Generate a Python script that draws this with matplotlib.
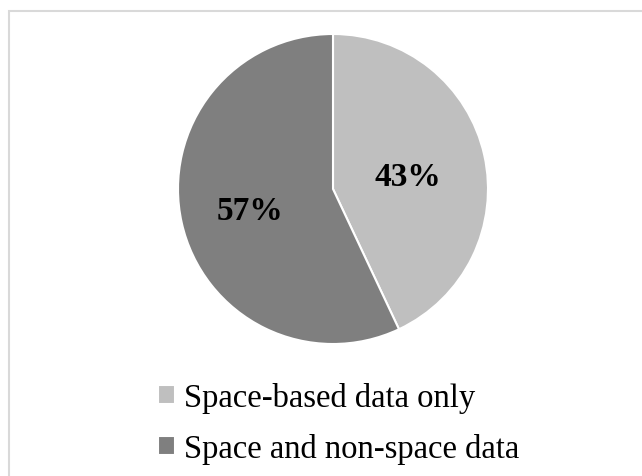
"""
Pie chart: share of studies using space-based data only vs. space and non-space data.
"""
import matplotlib.pyplot as plt
from matplotlib.patches import Rectangle

labels = ["Space-based data only", "Space and non-space data"]
shares = [43, 57]
colors = ["#BFBFBF", "#7F7F7F"]


def main():
    plt.rcParams["font.family"] = ["Liberation Serif", "DejaVu Serif"]
    fig = plt.figure(figsize=(6.42, 4.77), dpi=100)

    # light grey chart frame, cut off at the right and bottom edges
    fig.patches.append(Rectangle((9 / 642, -0.1), 1.2, 1.1 - 12 / 477,
                                 transform=fig.transFigure, fill=False,
                                 edgecolor="#D9D9D9", linewidth=1.5))

    # pie centre ~ (333, 190), radius ~155 px
    cx, cy, r = 333, 190, 155
    ax = fig.add_axes([(cx - r) / 642, 1 - (cy + r) / 477, 2 * r / 642, 2 * r / 477])
    wedges, texts = ax.pie(shares, colors=colors, startangle=90, counterclock=False,
                           wedgeprops=dict(edgecolor="white", linewidth=1.5))
    ax.set_xlim(-1, 1)
    ax.set_ylim(-1, 1)
    ax.set_aspect("equal")

    for w, s, xy in zip(wedges, shares, [(0.48, 0.08), (-0.535, -0.14)]):
        ax.text(xy[0], xy[1], f"{s}%", ha="center", va="center",
                fontsize=24, fontweight="bold", color="black")

    fig.legend(wedges, labels, loc="upper left", bbox_to_anchor=(158 / 642, 1 - 383 / 477),
               frameon=False, fontsize=23.5, handlelength=0.52, handleheight=0.52,
               handletextpad=0.28, labelspacing=0.62, borderpad=0, borderaxespad=0)

    fig.savefig("out.png", dpi=100)


if __name__ == "__main__":
    main()
